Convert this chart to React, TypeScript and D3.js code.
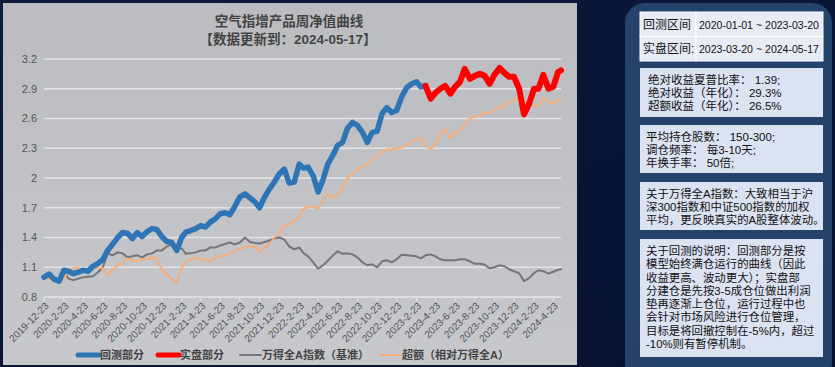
import React, { useEffect, useRef } from 'react'
import * as d3 from 'd3'

const W = 835
const H = 367

// sample dates: 2019-12-23, then the 8th and 23rd of each month, last point 2024-05-17
const dates: Date[] = [new Date(2019, 11, 23)]
for (let y = 2020; y <= 2024; y++) {
  for (let m = 0; m < 12; m++) {
    if (y === 2024 && m > 4) break
    dates.push(new Date(y, m, 8))
    if (y === 2024 && m === 4) dates.push(new Date(2024, 4, 17))
    else dates.push(new Date(y, m, 23))
  }
}

// 回测部分 (first 79 dates, up to 2023-03)
const backtest = [
  1.00, 1.03, 0.98, 0.96, 1.07, 1.06, 1.035, 1.05, 1.07, 1.06,
  1.11, 1.14, 1.18, 1.27, 1.33, 1.40, 1.45, 1.44, 1.39, 1.45,
  1.41, 1.46, 1.49, 1.48, 1.41, 1.36, 1.35, 1.27, 1.40, 1.455,
  1.47, 1.49, 1.52, 1.505, 1.555, 1.59, 1.64, 1.65, 1.63, 1.72,
  1.81, 1.84, 1.80, 1.76, 1.70, 1.81, 1.89, 1.96, 2.04, 2.09,
  1.95, 1.96, 2.14, 2.10, 2.11, 2.02, 1.86, 1.98, 2.14, 2.23,
  2.33, 2.36, 2.50, 2.56, 2.53, 2.46, 2.36, 2.46, 2.47, 2.65,
  2.71, 2.66, 2.68, 2.82, 2.91, 2.95, 2.97, 2.92, 2.93
]
// 实盘部分 (from 2023-03 on)
const live = [
  2.93, 2.80, 2.86, 2.90, 2.93, 2.85, 2.92, 2.97, 3.10, 3.00,
  3.03, 3.05, 3.03, 2.95, 3.04, 3.11, 3.06, 3.02, 3.02, 2.90,
  2.64, 2.75, 2.90, 2.90, 3.04, 2.90, 2.92, 3.07, 3.085
]
// 万得全A指数
const benchmark = [
  1.00, 1.04, 1.00, 0.97, 1.07, 0.985, 0.97, 0.985, 1.00, 1.005,
  1.01, 1.05, 1.10, 1.24, 1.22, 1.25, 1.24, 1.20, 1.21, 1.22,
  1.20, 1.23, 1.24, 1.27, 1.27, 1.31, 1.33, 1.29, 1.29, 1.235,
  1.24, 1.25, 1.27, 1.27, 1.30, 1.30, 1.32, 1.335, 1.35, 1.33,
  1.35, 1.40, 1.355, 1.345, 1.34, 1.355, 1.37, 1.39, 1.40, 1.38,
  1.31, 1.28, 1.30, 1.245, 1.21, 1.15, 1.085, 1.12, 1.165, 1.22,
  1.26, 1.235, 1.24, 1.23, 1.20, 1.15, 1.12, 1.13, 1.10, 1.16,
  1.17, 1.15, 1.18, 1.225, 1.22, 1.215, 1.21, 1.19, 1.22, 1.23,
  1.21, 1.18, 1.17, 1.17, 1.17, 1.18, 1.18, 1.16, 1.135, 1.135,
  1.125, 1.09, 1.10, 1.12, 1.11, 1.08, 1.06, 1.04, 0.96, 0.99,
  1.04, 1.07, 1.06, 1.035, 1.055, 1.075, 1.08
]
// 超额（相对万得全A）
const excess = [
  1.00, 0.985, 0.96, 0.94, 0.98, 1.07, 1.09, 1.10, 1.07, 1.05,
  1.085, 1.095, 1.09, 1.02, 1.07, 1.12, 1.14, 1.19, 1.17, 1.16,
  1.18, 1.18, 1.195, 1.19, 1.08, 1.02, 0.985, 0.94, 1.09, 1.15,
  1.18, 1.20, 1.17, 1.185, 1.16, 1.20, 1.21, 1.22, 1.235, 1.265,
  1.285, 1.30, 1.315, 1.31, 1.255, 1.30, 1.335, 1.40, 1.445, 1.52,
  1.53, 1.57, 1.61, 1.685, 1.71, 1.71, 1.69, 1.77, 1.84, 1.80,
  1.83, 1.89, 2.00, 2.04, 2.09, 2.12, 2.13, 2.18, 2.22, 2.26,
  2.29, 2.29, 2.30, 2.31, 2.33, 2.37, 2.39, 2.40, 2.33, 2.29,
  2.35, 2.45, 2.49, 2.40, 2.45, 2.48, 2.53, 2.60, 2.62, 2.63,
  2.66, 2.655, 2.685, 2.71, 2.73, 2.765, 2.78, 2.82, 2.78, 2.76,
  2.73, 2.72, 2.81, 2.76, 2.75, 2.79, 2.80
]

const yTicks = [0.8, 1.1, 1.4, 1.7, 2, 2.3, 2.6, 2.9, 3.2]
const xTickLabels = [
  '2019-12-23', '2020-2-23', '2020-4-23', '2020-6-23', '2020-8-23', '2020-10-23', '2020-12-23',
  '2021-2-23', '2021-4-23', '2021-6-23', '2021-8-23', '2021-10-23', '2021-12-23',
  '2022-2-23', '2022-4-23', '2022-6-23', '2022-8-23', '2022-10-23', '2022-12-23',
  '2023-2-23', '2023-4-23', '2023-6-23', '2023-8-23', '2023-10-23', '2023-12-23',
  '2024-2-23', '2024-4-23'
]

const legendItems = [
  { name: '回测部分', color: '#2e75b6', w: 5 },
  { name: '实盘部分', color: '#ff0000', w: 5 },
  { name: '万得全A指数（基准）', color: '#767676', w: 2 },
  { name: '超额（相对万得全A）', color: '#f5ad7a', w: 2 }
]

const periodRows = [
  ['回测区间', '2020-01-01 ~ 2023-03-20'],
  ['实盘区间:', '2023-03-20 ~ 2024-05-17']
]
const noteBoxes = [
  { y: 68, h: 49, lines: ['绝对收益夏普比率： 1.39;', '绝对收益（年化）： 29.3%', '超额收益（年化）： 26.5%'] },
  { y: 125, h: 48, lines: ['平均持仓股数： 150-300;', '调仓频率： 每3-10天;', '年换手率： 50倍;'] },
  { y: 182, h: 48, lines: ['关于万得全A指数：大致相当于沪', '深300指数和中证500指数的加权', '平均，更反映真实的A股整体波动。'] },
  { y: 239, h: 118, lines: [
    '关于回测的说明：回测部分是按', '模型始终满仓运行的曲线（因此', '收益更高、波动更大）；实盘部',
    '分建仓是先按3-5成仓位做出利润', '垫再逐渐上仓位，运行过程中也', '会针对市场风险进行仓位管理，',
    '目标是将回撤控制在-5%内，超过', '-10%则有暂停机制。'
  ] }
]

const font = '"Liberation Sans", Arial, "Noto Sans CJK SC", sans-serif'

function NavChart() {
  const ref = useRef<SVGSVGElement>(null)

  useEffect(() => {
    const svg = d3.select(ref.current)
    svg.selectAll('*').remove()

    const defs = svg.append('defs')
    const bg = defs.append('linearGradient').attr('id', 'bg').attr('x1', 0).attr('y1', 0).attr('x2', 1).attr('y2', 1)
    bg.append('stop').attr('offset', '0%').attr('stop-color', '#0c1a3c')
    bg.append('stop').attr('offset', '100%').attr('stop-color', '#071230')
    const panel = defs.append('linearGradient').attr('id', 'panel').attr('x1', 0).attr('y1', 0).attr('x2', 0).attr('y2', 1)
    panel.append('stop').attr('offset', '0%').attr('stop-color', '#bbbcc0')
    panel.append('stop').attr('offset', '100%').attr('stop-color', '#c6c8cc')

    svg.append('rect').attr('width', W).attr('height', H).attr('fill', 'url(#bg)')
    svg.append('rect').attr('x', 3).attr('y', 3).attr('width', 574).attr('height', 362).attr('fill', 'url(#panel)')

    const x = d3.scaleTime()
      .domain([new Date(2019, 11, 23), new Date(2024, 4, 17)])
      .range([44, 561])
    const y = d3.scaleLinear().domain([0.8, 3.2]).range([297, 59])

    // title
    svg.append('text').text('空气指增产品周净值曲线')
      .attr('x', 289).attr('y', 26).attr('text-anchor', 'middle')
      .style('font-family', font).style('font-size', '13.5px').style('font-weight', 'bold').style('fill', '#444')
    svg.append('text').text('【数据更新到：2024-05-17】')
      .attr('x', 288).attr('y', 44).attr('text-anchor', 'middle')
      .style('font-family', font).style('font-size', '13.5px').style('font-weight', 'bold').style('fill', '#444')

    // grid + y labels
    svg.append('g').selectAll('line').data(yTicks).enter().append('line')
      .attr('x1', 44).attr('x2', 561)
      .attr('y1', d => y(d)).attr('y2', d => y(d))
      .style('stroke', '#e4e4e6').style('stroke-width', 1.5)
    svg.append('g').selectAll('text').data(yTicks).enter().append('text')
      .text(d => String(d))
      .attr('x', 37).attr('y', d => y(d)).attr('dy', '0.35em').attr('text-anchor', 'end')
      .style('font-family', font).style('font-size', '11px').style('fill', '#555')

    // x ticks
    const parse = d3.timeParse('%Y-%m-%d')
    const tickDates = xTickLabels.map(s => parse(s) as Date)
    svg.append('g').selectAll('line').data(tickDates).enter().append('line')
      .attr('x1', d => x(d)).attr('x2', d => x(d)).attr('y1', 297).attr('y2', 301)
      .style('stroke', '#e4e4e6').style('stroke-width', 1)
    svg.append('g').selectAll('text').data(xTickLabels).enter().append('text')
      .text(d => d)
      .attr('transform', (d, i) => `translate(${x(tickDates[i]) + 3},${304}) rotate(-45)`)
      .attr('text-anchor', 'end').attr('dy', '0.35em')
      .style('font-family', font).style('font-size', '10px').style('fill', '#555')

    const line = d3.line<[Date, number]>()
      .x(d => x(d[0]))
      .y(d => y(d[1]))

    const liveStart = backtest.length - 1
    const series = [
      { pts: dates.map((d, i) => [d, benchmark[i]] as [Date, number]), color: '#767676', w: 2 },
      { pts: dates.map((d, i) => [d, excess[i]] as [Date, number]), color: '#f5ad7a', w: 2 },
      { pts: backtest.map((v, i) => [dates[i], v] as [Date, number]), color: '#2e75b6', w: 5.5 },
      { pts: live.map((v, i) => [dates[liveStart + i], v] as [Date, number]), color: '#ff0000', w: 6 }
    ]
    series.forEach(s => {
      svg.append('path')
        .attr('d', line(s.pts))
        .style('fill', 'none')
        .style('stroke', s.color)
        .style('stroke-width', s.w)
        .style('stroke-linejoin', 'round')
        .style('stroke-linecap', 'round')
    })

    // legend
    const legendX = [78, 158, 240, 380]
    legendItems.forEach((d, i) => {
      const g = svg.append('g').attr('transform', `translate(${legendX[i]},355)`)
      g.append('line').attr('x1', 0).attr('x2', 21).attr('y1', 0).attr('y2', 0)
        .style('stroke', d.color).style('stroke-width', d.w).style('stroke-linecap', 'round')
      g.append('text').text(d.name).attr('x', 22).attr('dy', '0.35em')
        .style('font-family', font).style('font-size', '11px').style('font-weight', 'bold').style('fill', '#444')
    })

    // right panel
    svg.append('rect').attr('x', 625).attr('y', 3).attr('width', 207).attr('height', 380).attr('rx', 20)
      .attr('fill', '#284870').attr('opacity', 0.9)

    const table = svg.append('g')
    periodRows.forEach((r, i) => {
      const ry = 12 + i * 24.5
      table.append('rect').attr('x', 640).attr('y', ry).attr('width', 56).attr('height', 24.5)
        .attr('fill', '#e7ebf5').attr('stroke', '#ffffff').attr('stroke-width', 1)
      table.append('rect').attr('x', 696).attr('y', ry).attr('width', 127).attr('height', 24.5)
        .attr('fill', '#e7ebf5').attr('stroke', '#ffffff').attr('stroke-width', 1)
      table.append('text').text(r[0]).attr('x', 643).attr('y', ry + 12.5).attr('dy', '0.35em')
        .style('font-family', font).style('font-size', '12px').style('fill', '#111')
      table.append('text').text(r[1]).attr('x', 699).attr('y', ry + 12.5).attr('dy', '0.35em')
        .attr('textLength', 120).attr('lengthAdjust', 'spacingAndGlyphs')
        .style('font-family', font).style('font-size', '11.5px').style('fill', '#111')
    })

    noteBoxes.forEach((b, bi) => {
      svg.append('rect').attr('x', 640).attr('y', b.y).attr('width', 183).attr('height', b.h)
        .attr('fill', '#dbe2f2')
      const lh = bi === 3 ? 13.3 : 13
      const x0 = bi === 0 ? 648 : 646
      b.lines.forEach((t, li) => {
        svg.append('text').text(t)
          .attr('x', x0).attr('y', b.y + 12 + li * lh).attr('dy', '0.35em')
          .style('font-family', font).style('font-size', bi < 2 ? '11.5px' : '11.4px').style('fill', '#111')
      })
    })
  }, [])

  return <svg ref={ref} width={W} height={H} style={{ display: 'block' }}></svg>
}

export default function App() {
  return (
    <div style={{ position: 'absolute', left: 0, top: 0, width: W, height: H, overflow: 'hidden' }}>
      <NavChart />
    </div>
  )
}
